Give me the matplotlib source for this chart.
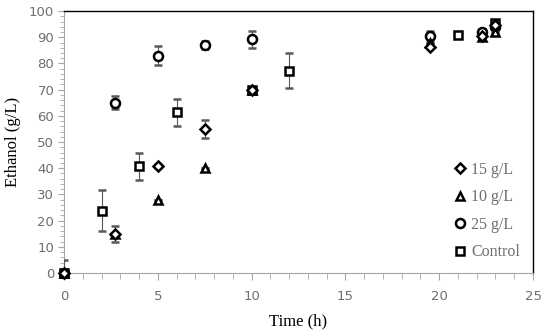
import matplotlib
matplotlib.use("Agg")
import matplotlib.pyplot as plt
from matplotlib.ticker import MultipleLocator
from matplotlib.lines import Line2D

# Data
t15 = [0, 2.7, 5, 7.5, 10, 19.5, 22.3, 23]
y15 = [0, 15, 41, 55, 70, 86.3, 90.5, 94.5]
e15 = [0, 0, 0.8, 3.4, 0, 0, 0, 0]

t10 = [0, 2.7, 5, 7.5, 10, 19.5, 22.3, 23]
y10 = [0, 14.8, 28, 40, 70, 88, 90.2, 92]
e10 = [0, 3, 0, 0, 0, 0, 0, 0]

t25 = [0, 2.7, 5, 7.5, 10, 19.5, 22.3, 23]
y25 = [0, 65, 83, 87.2, 89.2, 90.4, 92, 94]
e25 = [0, 2.5, 3.5, 1.5, 3.3, 2, 1, 1]

tc = [0, 2, 4, 6, 10, 12, 21, 23]
yc = [0, 23.7, 40.8, 61.3, 69.7, 77.2, 90.8, 95.3]
ec = [5, 7.8, 5.2, 5, 1.5, 6.7, 1, 1]

labels = ["15 g/L", "10 g/L", "25 g/L", "Control"]

fig = plt.figure(figsize=(5.5, 3.36), dpi=100)
ax = fig.add_axes([0.1164, 0.1875, 0.9691 - 0.1164, 0.967 - 0.1875])

ecol = "#595959"
common = dict(linestyle="none", mfc="white", mec="black", mew=1.8,
              ecolor=ecol, elinewidth=0.8, capsize=3, capthick=0.8)
specs = [("s", 6.3), ("o", 6.5), ("^", 6.0), ("D", 4.6)]
series = [(tc, yc, ec), (t25, y25, e25), (t10, y10, e10), (t15, y15, e15)]
for z, ((m, ms), (tx, ty, te)) in enumerate(zip(specs, series)):
    cont = ax.errorbar(tx, ty, yerr=te, marker=m, ms=ms, zorder=3 + z, **common)
    cont[0].set_clip_on(False)

ax.set_xlim(0, 25)
ax.set_ylim(0, 100)
ax.xaxis.set_major_locator(MultipleLocator(5))
ax.xaxis.set_minor_locator(MultipleLocator(1))
ax.yaxis.set_major_locator(MultipleLocator(10))
ax.yaxis.set_minor_locator(MultipleLocator(2))

gray = "#6e6e6e"
spine_gray = "#a6a6a6"
for s in ["top", "right"]:
    ax.spines[s].set_color("black")
    ax.spines[s].set_linewidth(1.0)
for s in ["bottom", "left"]:
    ax.spines[s].set_color(spine_gray)
    ax.spines[s].set_linewidth(0.8)

ax.tick_params(axis="both", which="both", direction="out", colors=spine_gray,
               labelcolor=gray, labelsize=9.5)
ax.tick_params(axis="x", which="major", length=5, pad=7)
ax.tick_params(axis="x", which="minor", length=4)
ax.tick_params(axis="y", which="major", length=4, pad=3)
ax.tick_params(axis="y", which="minor", length=3)

serif = ["Liberation Serif", "DejaVu Serif"]
ax.set_xlabel("Time (h)", family=serif, fontsize=12, labelpad=8)
ax.set_ylabel("Ethanol (g/L)", family=serif, fontsize=12, labelpad=6)

handles = [Line2D([], [], linestyle="none", marker=m, ms=ms, mfc="white",
                  mec="black", mew=1.8) for m, ms in specs]
labs = [labels[3], labels[2], labels[1], labels[0]]
order = [3, 2, 1, 0]
ax.legend([handles[i] for i in order], [labs[i] for i in order], loc="lower right",
          frameon=False, prop={"family": serif, "size": 11.5},
          handlelength=0.8, handletextpad=0.3, labelspacing=0.72,
          borderaxespad=0.4, labelcolor=gray)

fig.savefig("out.png", dpi=100)
